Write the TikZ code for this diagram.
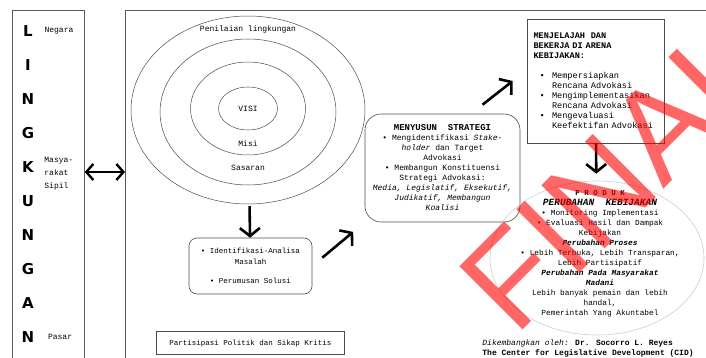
\documentclass[tikz,border=0pt]{standalone}
\usepackage{fontspec}
\setmainfont{Liberation Mono}
\newfontfamily\heavy{Liberation Sans}
\newfontfamily\block{DejaVu Sans}
\usepackage{tikz}
\usetikzlibrary{positioning, shapes, arrows.meta}
\newcommand{\fsz}[2]{\fontsize{#1}{#2}\selectfont}

\begin{document}
\begin{tikzpicture}[x = 1pt, y = -1pt, node distance = 22.2pt, thick,
  frame/.style = {draw = black!65, line width = 0.7pt, anchor = north west, minimum height = 380pt},
  letter/.style = {font = \block\bfseries\fsz{15}{15}, text height = 11.5pt, text depth = 0pt, inner sep = 0pt},
  tag/.style = {font = \fsz{8}{10}, inner sep = 1pt, align = left},
  ring/.style = {ellipse, draw = black!70, line width = 0.5pt, inner sep = 0pt},
  card/.style = {draw = black!70, line width = 0.6pt, rounded corners = 8pt, align = center, font = \fsz{8}{10}},
  push/.style = {line width = 2.6pt, -{Straight Barb[length = 8pt, width = 20pt]}},
  twoway/.style = {line width = 2.4pt, {Straight Barb[length = 7pt, width = 16pt]}-{Straight Barb[length = 7pt, width = 16pt]}}]
  \clip (0,0) rectangle (706,358);

  % frames
  \node [frame, minimum width = 72pt] (side) at (12,10) {};
  \node [frame, minimum width = 620pt] (stage) at (125,10) {};

  % the word down the side
  \node [letter] (l1) at (28,31) {L};
  \node [letter][below = 21.7pt of l1] (l2) {I};
  \node [letter][below = 21.7pt of l2] (l3) {N};
  \node [letter][below = 21.7pt of l3] (l4) {G};
  \node [letter][below = 21.7pt of l4] (l5) {K};
  \node [letter][below = 21.7pt of l5] (l6) {U};
  \node [letter][below = 21.7pt of l6] (l7) {N};
  \node [letter][below = 21.7pt of l7] (l8) {G};
  \node [letter][below = 21.7pt of l8] (l9) {A};
  \node [letter][below = 21.7pt of l9] (l10) {N};
  \node [tag][right = 10pt of l1] (negara) {Negara};
  \node [tag, anchor = north west, font = \fsz{8}{13}] (sipil) at (43,156) {Masya-\\rakat\\Sipil};
  \node [tag][right = 12pt of l10] (pasar) {Pasar};

  % rings
  \node [ring, minimum width = 234pt, minimum height = 188pt] (ring1) at (248,110) {};
  \node [ring, minimum width = 176pt, minimum height = 146pt] (ring2) at (248,112) {};
  \node [ring, minimum width = 115pt, minimum height = 93pt] (ring3) at (248,108.5) {};
  \node [ring, minimum width = 59pt, minimum height = 43pt, font = \fsz{8}{10}] (ring4) at (248,108.5) {VISI};
  \node [tag][below = 9pt of ring1.north] (scan) {Penilaian lingkungan};
  \node [tag][above = 7pt of ring3.south] (misi) {Misi};
  \node [tag][above = 13pt of ring2.south] (sasaran) {Sasaran};

  % boxes
  \node [card, minimum width = 123pt, minimum height = 56pt, font = \fsz{7.5}{11}] (ident) at (250.5,266)
    {\textbullet{} Identifikasi-Analisa\\Masalah\\[8pt]\textbullet{} Perumusan Solusi};
  \node [card, sharp corners, minimum width = 188pt, minimum height = 23pt, font = \fsz{7.5}{9}][below = 37pt of ident] (kritis)
    {Partisipasi Politik dan Sikap Kritis};
  \node [card, rounded corners = 16pt, minimum width = 155pt, minimum height = 108pt] (strategy) at (442.5,168)
    {{\bfseries\fsz{9}{10}MENYUSUN~~STRATEGI}\\
     \textbullet{} Mengidentifikasi \textit{Stake-}\\\textit{holder} dan Target\\Advokasi\\
     \textbullet{} Membangun Konstituensi\\Strategi Advokasi:\\
     \textit{Media, Legislatif, Eksekutif,}\\\textit{Judikatif, Membangun}\\\textit{Koalisi}};
  \node [card, sharp corners, minimum width = 137pt, minimum height = 124pt, align = left, text width = 124pt, inner xsep = 6.5pt, font = \fsz{8.6}{10}] (explore) at (595.5,81)
    {\textbf{MENJELAJAH~~DAN}\\\textbf{BEKERJA DI ARENA}\\\textbf{KEBIJAKAN:}\\[10pt]
     \hspace*{6pt}\makebox[12.5pt][l]{\textbullet}Mempersiapkan\\\hspace*{18.5pt}Rencana Advokasi\\
     \hspace*{6pt}\makebox[12.5pt][l]{\textbullet}Mengimplementasikan\\\hspace*{18.5pt}Rencana Advokasi\\
     \hspace*{6pt}\makebox[12.5pt][l]{\textbullet}Mengevaluasi\\\hspace*{18.5pt}Keefektifan~Advokasi};
  \node [ellipse, draw = black!20, line width = 0.6pt, minimum width = 214pt, minimum height = 154pt] (produk) at (597,258) {};
  \node [align = center, font = \fsz{7.8}{10}, inner sep = 0pt] (gains) at (600,254)
    {{\bfseries\fsz{7.5}{10}P R O D U K}\\
     {\bfseries\itshape\fsz{9.5}{10}PERUBAHAN~~KEBIJAKAN}\\
     \textbullet{} Monitoring Implementasi\\
     \textbullet{} Evaluasi Hasil dan Dampak\\Kebijakan\\
     \textbf{\textit{Perubahan Proses}}\\
     \textbullet{} Lebih Terbuka, Lebih Transparan,\\Lebih Partisipatif\\
     \textbf{\textit{Perubahan Pada Masyarakat}}\\\textbf{\textit{Madani}}\\
     Lebih banyak pemain dan lebih\\handal,\\Pemerintah Yang Akuntabel};
  \node [anchor = west, align = left, font = \fsz{8}{10}, inner sep = 0pt] (credit) at (482,348)
    {\textit{Dikembangkan oleh:} \textbf{Dr. Socorro L. Reyes}\\\textbf{The Center for Legislative Development (CID)}};

  % arrows
  \coordinate (level) at (0,172);
  \draw [twoway] (side.east |- level) -- (stage.west |- level);
  \draw [push, shorten <= 2pt] (ring1) -- (ident);
  \draw [push, shorten <= 13pt, shorten >= 15pt] (ident.east) -- (strategy.south west);
  \draw [push] ([xshift = 40pt, yshift = 9pt]strategy.north) -- ([xshift = -14pt]explore.west);
  \draw [push, shorten >= 7pt] (explore) -- (produk);

  % stamp
  \node [rotate = 45, anchor = base west, text = red, opacity = 0.6, text opacity = 0.6, font = \heavy\fsz{130}{130}, inner sep = 0pt] (stamp) at (515,338) {FINAL};
\end{tikzpicture}
\end{document}
